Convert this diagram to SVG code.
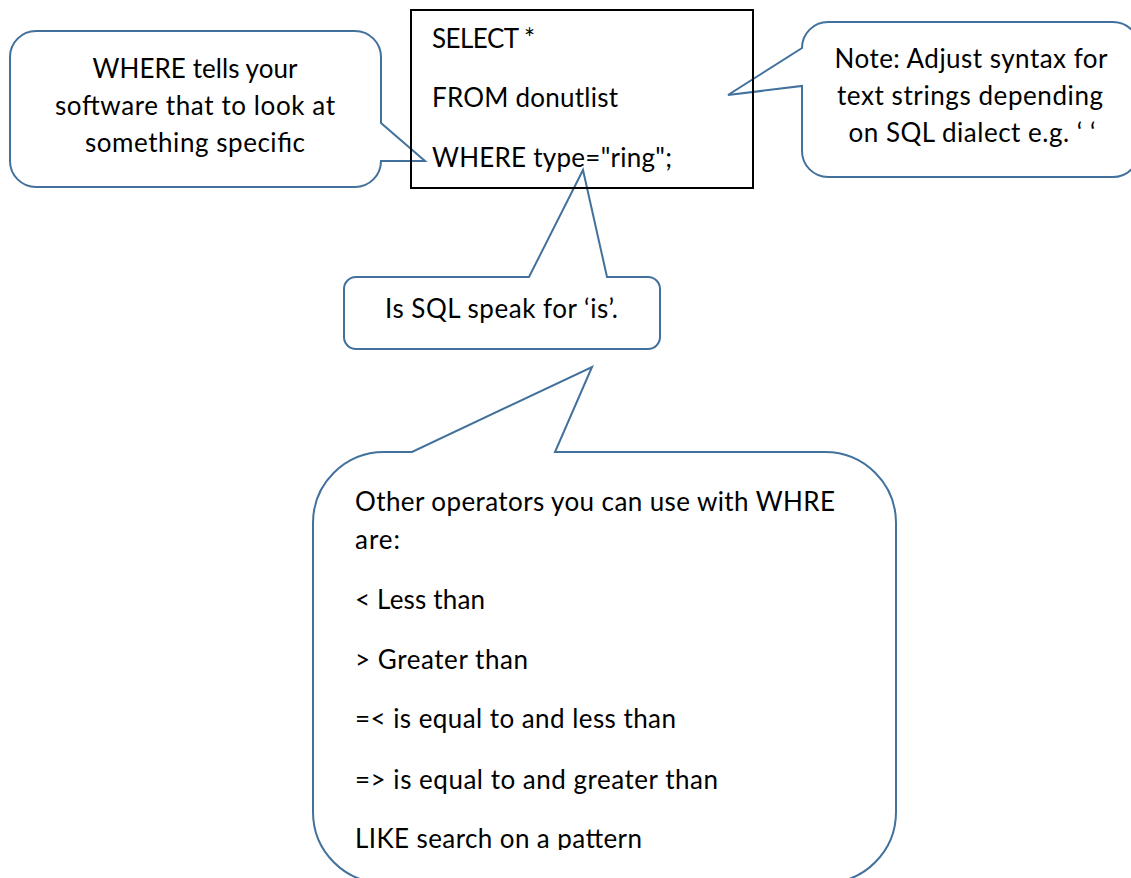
<svg xmlns="http://www.w3.org/2000/svg" width="1131" height="878" viewBox="0 0 1131 878">
  <style>
    .callout { fill: #ffffff; stroke: #41719C; stroke-width: 2; stroke-linejoin: miter; }
    .box { fill: none; stroke: #000000; stroke-width: 2; }
    .t { font-family: Lato, "Open Sans", "Liberation Sans", sans-serif; font-size: 26px; fill: #000000; }
    .c { text-anchor: middle; }
  </style>
  <defs>
    <clipPath id="bigClip">
      <rect x="313" y="452" width="583" height="398"/>
    </clipPath>
  </defs>
  <rect width="1131" height="878" fill="#ffffff"/>

  <g id="connectors"></g>

  <g id="note-where">
    <path class="callout" d="M36,31 H355 A26,26 0 0 1 381,57 V123 L425,161 L381,161 A26,26 0 0 1 355,187 H36 A26,26 0 0 1 10,161 V57 A26,26 0 0 1 36,31 Z"/>
    <text class="t c" x="195" y="78" textLength="205" lengthAdjust="spacing">WHERE tells your</text>
    <text class="t c" x="195" y="115" textLength="280" lengthAdjust="spacing">software that to look at</text>
    <text class="t c" x="195" y="152" textLength="220" lengthAdjust="spacing">something specific</text>
  </g>

  <g id="note-syntax">
    <path class="callout" d="M828,22 H1113 A26,26 0 0 1 1139,48 V151 A26,26 0 0 1 1113,177 H828 A26,26 0 0 1 802,151 V86 L728,95 L802,48 A26,26 0 0 1 828,22 Z"/>
    <text class="t c" x="971" y="68" textLength="273" lengthAdjust="spacing">Note: Adjust syntax for</text>
    <text class="t c" x="970" y="105" textLength="266" lengthAdjust="spacing">text strings depending</text>
    <text class="t c" x="972" y="142" textLength="247" lengthAdjust="spacing">on SQL dialect e.g. ‘ ‘</text>
  </g>

  <g id="note-is">
    <path class="callout" d="M356,277 H529 L583,170 L607,277 H648 A12,12 0 0 1 660,289 V337 A12,12 0 0 1 648,349 H356 A12,12 0 0 1 344,337 V289 A12,12 0 0 1 356,277 Z"/>
    <text class="t c" x="501.5" y="318" textLength="233" lengthAdjust="spacing">Is SQL speak for ‘is’.</text>
  </g>

  <g id="note-operators">
    <path class="callout" d="M384,452 H412 L592,367 L555,452 H825 A71,71 0 0 1 896,523 V812 A71,71 0 0 1 825,883 H384 A71,71 0 0 1 313,812 V523 A71,71 0 0 1 384,452 Z"/>
    <g clip-path="url(#bigClip)">
      <text class="t" x="355" y="511" textLength="480" lengthAdjust="spacing">Other operators you can use with WHRE</text>
      <text class="t" x="355" y="549" textLength="45" lengthAdjust="spacing">are:</text>
      <text class="t" x="355" y="609" textLength="130" lengthAdjust="spacing">&lt; Less than</text>
      <text class="t" x="355" y="669" textLength="173" lengthAdjust="spacing">&gt; Greater than</text>
      <text class="t" x="355" y="728" textLength="321" lengthAdjust="spacing">=&lt; is equal to and less than</text>
      <text class="t" x="355" y="789" textLength="363" lengthAdjust="spacing">=&gt; is equal to and greater than</text>
      <text class="t" x="355" y="848" textLength="287" lengthAdjust="spacing">LIKE search on a pattern</text>
    </g>
  </g>

  <g id="sql-query">
    <rect class="box" x="411" y="10" width="342" height="178"/>
    <text class="t" x="432" y="48" textLength="103" lengthAdjust="spacing">SELECT *</text>
    <text class="t" x="432" y="107" textLength="186" lengthAdjust="spacing">FROM donutlist</text>
    <text class="t" x="432" y="167" textLength="240" lengthAdjust="spacing">WHERE type="ring";</text>
  </g>
</svg>
